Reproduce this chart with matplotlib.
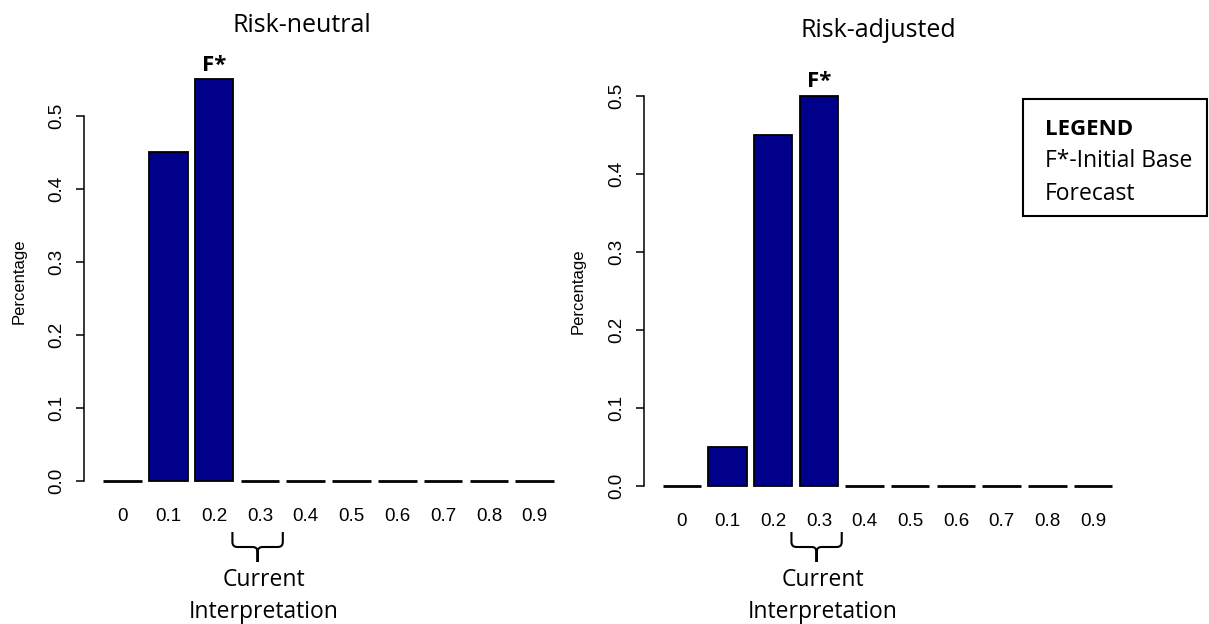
import numpy as np
import matplotlib
matplotlib.use("Agg")
import matplotlib.pyplot as plt
from matplotlib.path import Path
from matplotlib.patches import PathPatch, Rectangle
from matplotlib.transforms import blended_transform_factory

# data
categories = ['0', '0.1', '0.2', '0.3', '0.4', '0.5', '0.6', '0.7', '0.8', '0.9']
risk_neutral = [0, 0.45, 0.55, 0, 0, 0, 0, 0, 0, 0]
risk_adjusted = [0, 0.05, 0.45, 0.5, 0, 0, 0, 0, 0, 0]
yticks = [0.0, 0.1, 0.2, 0.3, 0.4, 0.5]
titles = ['Risk-neutral', 'Risk-adjusted']
forecast_idx = [2, 3]      # bar marked with F*
current_idx = 3            # bar under the brace
legend_lines = ['F*-Initial Base', 'Forecast']

W, H = 1209, 624
NAVY = '#00008B'
TICK_FONT = ['Liberation Sans Narrow', 'Liberation Sans', 'DejaVu Sans']
SANS = ['Liberation Sans', 'DejaVu Sans']
CAL = ['Open Sans', 'DejaVu Sans']

fig = plt.figure(figsize=(W / 100, H / 100), dpi=100)


def fy(py):
    # pixel row (from top) -> figure fraction
    return 1 - py / H


def px_axes(x0, x1, y_top, y_bot):
    return fig.add_axes([x0 / W, fy(y_bot), (x1 - x0) / W, (y_bot - y_top) / H])


def brace(ax, lo, hi, tip_x, top, mid, tip, r=5):
    tr = blended_transform_factory(ax.transData, fig.transFigure)
    rx = r / (ax.transData.transform((1, 0))[0] - ax.transData.transform((0, 0))[0])
    top, mid, tip, rr = fy(top), fy(mid), fy(tip), r / H
    verts, codes = [], []
    for end, s in ((lo, 1), (hi, -1)):
        verts += [(end, top), (end, mid + rr), (end, mid), (end + s * rx, mid),
                  (tip_x - s * rx, mid), (tip_x, mid), (tip_x, mid - rr), (tip_x, tip)]
        codes += [Path.MOVETO, Path.LINETO, Path.CURVE3, Path.CURVE3,
                  Path.LINETO, Path.CURVE3, Path.CURVE3, Path.LINETO]
    ax.add_patch(PathPatch(Path(verts, codes), transform=tr, fill=False,
                           lw=1.5, color='black', clip_on=False, capstyle='butt'))


def panel(ax, values, title, title_xy, ylab_xy, xpad, fstar):
    x = np.arange(len(categories))
    # empty bars show only as their (thick) outline
    lws = [2.0 if v == 0 else 1.3 for v in values]
    ax.bar(x, values, width=0.84, color=NAVY, edgecolor='black', linewidth=lws,
           clip_on=False)
    for side in ('top', 'right', 'bottom'):
        ax.spines[side].set_visible(False)
    ax.spines['left'].set_bounds(0, 0.5)
    ax.spines['left'].set_linewidth(1.1)
    ax.set_yticks(yticks, [f'{v:.1f}' for v in yticks])
    ax.set_xticks(x, categories)
    ax.tick_params(axis='x', length=0, pad=xpad)
    ax.tick_params(axis='y', length=5.8, width=1.1, pad=8, labelrotation=90)
    for lbl in ax.get_yticklabels():
        lbl.set_va('center')
        lbl.set_family(TICK_FONT)
        lbl.set_fontsize(13.5)
    for lbl in ax.get_xticklabels():
        lbl.set_family(TICK_FONT)
        lbl.set_fontsize(13.5)
    ax.patch.set_alpha(0)

    ax.annotate('F*', (fstar, values[fstar]), xytext=(0, 6), textcoords='offset points',
                ha='center', va='baseline', fontsize=16, fontweight='bold', family=CAL)
    fig.text(title_xy[0] / W, fy(title_xy[1]), title, ha='center', va='baseline',
             fontsize=18, family=CAL)
    fig.text(ylab_xy[0] / W, fy(ylab_xy[1]), 'Percentage', rotation=90,
             ha='center', va='center', fontsize=12, family=SANS)

    brace(ax, current_idx - 0.6, current_idx + 0.5, current_idx - 0.05, 532, 547, 562)
    tr = blended_transform_factory(ax.transData, fig.transFigure)
    ax.text(current_idx + 0.08, fy(586), 'Current', transform=tr, ha='center',
            va='baseline', fontsize=16.5, family=CAL)
    ax.text(current_idx + 0.08, fy(618), 'Interpretation', transform=tr, ha='center',
            va='baseline', fontsize=16.5, family=CAL)


# left panel: axis at x=84.3px, 45.8 px per bar; zero at y=481, 730 px per unit
ax1 = px_axes(84.3, 84.3 + 10.434 * 45.8, 481 - 0.58 * 730, 481 + 0.03 * 730)
ax1.set_xlim(-0.834, 9.6)
ax1.set_ylim(-0.03, 0.58)
panel(ax1, risk_neutral, titles[0], (302, 32), (19, 281.5), 4.0, forecast_idx[0])

# right panel: axis at x=644.3px, 45.7 px per bar; zero at y=486.3, 781 px per unit
ax2 = px_axes(644.3, 644.3 + 10.42 * 45.7, 486.3 - 0.53 * 781, 486.3 + 0.03 * 781)
ax2.set_xlim(-0.82, 9.6)
ax2.set_ylim(-0.03, 0.53)
panel(ax2, risk_adjusted, titles[1], (878.5, 37), (578, 291.5), 2.5, forecast_idx[1])

# legend box
fig.patches.append(Rectangle((1023.3 / W, fy(216)), (1207 - 1023.3) / W, (216 - 99) / H,
                             transform=fig.transFigure, fill=False, lw=1.5,
                             edgecolor='black'))
fig.text(1045 / W, fy(135), 'LEGEND', ha='left', va='baseline', fontsize=16,
         fontweight='bold', family=CAL)
for i, line in enumerate(legend_lines):
    fig.text(1045 / W, fy(167 + 33 * i), line, ha='left', va='baseline',
             fontsize=16.5, family=CAL)

fig.savefig('out.png', dpi=100)
